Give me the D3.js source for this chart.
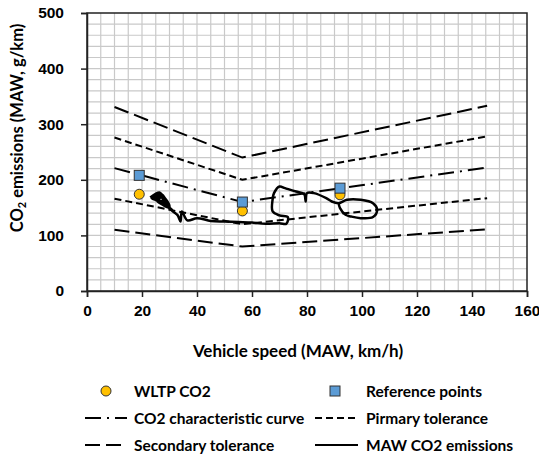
<meta charset="utf-8">
<script src="https://d3js.org/d3.v7.min.js"></script>
<style>
body { margin: 0; background: #fff; }
svg { font-family: Lato, "Open Sans", sans-serif; font-weight: bold; }
.tick text { font-size: 15.5px; fill: #000; }
.legend text { font-size: 15.5px; }
</style>
<body>
<div id="chart"></div>
<script>
// tick labels
var speedTicks = [0, 20, 40, 60, 80, 100, 120, 140, 160];
var co2Ticks = [0, 100, 200, 300, 400, 500];

// points
var wltpSpeed = [19, 56.5, 92];
var wltpCO2 = [174, 144, 173];
var refSpeed = [19, 56.5, 92];
var refCO2 = [208, 160, 185];

// characteristic curve + tolerances (same speed breakpoints)
var lineSpeed = [10, 56.5, 145.5];
var curveCO2 = [221, 160, 222];
var primaryUpper = [276, 200, 278];
var primaryLower = [166, 120, 167];
var secondaryUpper = [331, 240, 333];
var secondaryLower = [110, 80, 111];

// MAW CO2 emissions trace
var mawSpeed = [23, 26.5, 28, 23.5, 27, 29, 24, 26, 28.5, 24.5, 27.5, 30, 25.5, 27, 29.5, 26, 31, 28.5, 31.5, 33, 34, 34.5, 36.5, 40, 45, 50, 55, 60, 65, 70, 72.5, 73, 70, 67.5, 67.5, 68, 70, 72, 76, 79, 79.5, 80, 82.5, 87, 89, 91.5, 94.5, 99.5, 104, 105.5, 104, 99.5, 96, 94, 92, 91.5];
var mawCO2 = [168, 177, 163, 167, 174, 158, 170, 175, 160, 165, 170, 152, 162, 168, 150, 160, 146, 155, 142, 136, 125, 143, 127, 131, 126, 125, 124, 123, 121, 122, 121, 133, 136, 143, 165, 176, 188, 185, 179, 174, 161, 176, 176, 167, 161, 158, 164, 164, 158, 146, 133, 131, 134, 137, 149, 158];

var width = 539, height = 458;
var plotLeft = 87, plotRight = 527, plotTop = 13, plotBottom = 291;

var svg = d3.select("#chart").append("svg")
  .attr("width", width)
  .attr("height", height);

var x = d3.scaleLinear().domain([0, 160]).range([plotLeft, plotRight]);
var y = d3.scaleLinear().domain([0, 500]).range([plotBottom, plotTop]);

// grid
var grid = svg.append("g").attr("stroke", "#c9c9c9").attr("stroke-width", 1.2);
grid.selectAll("line.v")
  .data(d3.range(5, 160, 5))
  .enter().append("line")
  .attr("x1", d => x(d)).attr("x2", d => x(d))
  .attr("y1", plotTop).attr("y2", plotBottom);
grid.selectAll("line.h")
  .data(d3.range(20, 500, 20))
  .enter().append("line")
  .attr("x1", plotLeft).attr("x2", plotRight)
  .attr("y1", d => y(d)).attr("y2", d => y(d));

// frame
svg.append("rect")
  .attr("x", plotLeft).attr("y", plotTop)
  .attr("width", plotRight - plotLeft).attr("height", plotBottom - plotTop)
  .attr("fill", "none").attr("stroke", "#222").attr("stroke-width", 1.5);

// axes
var xAxis = svg.append("g")
  .attr("transform", "translate(0," + plotBottom + ")")
  .call(d3.axisBottom(x).tickValues(speedTicks).tickSize(6).tickPadding(8));
xAxis.select(".domain").attr("stroke", "#222").attr("stroke-width", 1.5);
xAxis.selectAll(".tick line").attr("stroke", "#222").attr("stroke-width", 1.5);

var yAxis = svg.append("g")
  .attr("transform", "translate(" + plotLeft + ",0)")
  .call(d3.axisLeft(y).tickValues(co2Ticks).tickSize(6).tickPadding(17));
yAxis.select(".domain").attr("stroke", "#222").attr("stroke-width", 1.5);
yAxis.selectAll(".tick line").attr("stroke", "#222").attr("stroke-width", 1.5);

// axis titles
svg.append("text")
  .attr("x", 298).attr("y", 357)
  .attr("text-anchor", "middle")
  .style("font-size", "17px")
  .text("Vehicle speed (MAW, km/h)");

var yt = svg.append("text")
  .attr("transform", "translate(23,128) rotate(-90)")
  .attr("text-anchor", "middle")
  .style("font-size", "16.5px");
yt.append("tspan").text("CO");
yt.append("tspan").attr("baseline-shift", "-25%").style("font-size", "11px").text("2");
yt.append("tspan").text(" emissions (MAW, g/km)");

// lines
var line = d3.line().x(d => x(d[0])).y(d => y(d[1]));
function pairs(xs, ys) { return xs.map((v, i) => [v, ys[i]]); }

var series = [
  { v: secondaryUpper, dash: "15,6" },
  { v: secondaryLower, dash: "15,6" },
  { v: primaryUpper, dash: "7,4" },
  { v: primaryLower, dash: "7,4" },
  { v: curveCO2, dash: "16,6,2,6" }
];
svg.selectAll("path.tol")
  .data(series)
  .enter().append("path")
  .attr("d", d => line(pairs(lineSpeed, d.v)))
  .attr("fill", "none")
  .attr("stroke", "#000")
  .attr("stroke-width", 2)
  .attr("stroke-dasharray", d => d.dash);

svg.append("path")
  .attr("d", line.curve(d3.curveCatmullRom)(pairs(mawSpeed, mawCO2)))
  .attr("fill", "none")
  .attr("stroke", "#000")
  .attr("stroke-width", 2.5)
  .attr("stroke-linejoin", "round");

// points
svg.selectAll("circle.wltp")
  .data(pairs(wltpSpeed, wltpCO2))
  .enter().append("circle")
  .attr("cx", d => x(d[0])).attr("cy", d => y(d[1]))
  .attr("r", 5)
  .attr("fill", "#ffc000").attr("stroke", "#333").attr("stroke-width", 1);

svg.selectAll("rect.ref")
  .data(pairs(refSpeed, refCO2))
  .enter().append("rect")
  .attr("x", d => x(d[0]) - 5).attr("y", d => y(d[1]) - 5)
  .attr("width", 10).attr("height", 10)
  .attr("fill", "#5b9bd5").attr("stroke", "#333").attr("stroke-width", 1);

// legend
var lg = svg.append("g").attr("class", "legend");
var rows = [391, 418, 445];
lg.append("circle").attr("cx", 106).attr("cy", rows[0]).attr("r", 5)
  .attr("fill", "#ffc000").attr("stroke", "#333");
lg.append("rect").attr("x", 330).attr("y", rows[0] - 5).attr("width", 10).attr("height", 10)
  .attr("fill", "#5b9bd5").attr("stroke", "#333");
var lgLines = [
  { x1: 85, x2: 127, y: rows[1], dash: "16,6,2,6" },
  { x1: 315, x2: 358, y: rows[1], dash: "7,4" },
  { x1: 85, x2: 127, y: rows[2], dash: "15,6" },
  { x1: 315, x2: 358, y: rows[2], dash: null }
];
lg.selectAll("line")
  .data(lgLines)
  .enter().append("line")
  .attr("x1", d => d.x1).attr("x2", d => d.x2)
  .attr("y1", d => d.y).attr("y2", d => d.y)
  .attr("stroke", "#000").attr("stroke-width", 2)
  .attr("stroke-dasharray", d => d.dash);
var lgText = [
  { x: 134, y: rows[0], t: "WLTP CO2" },
  { x: 366, y: rows[0], t: "Reference points" },
  { x: 134, y: rows[1], t: "CO2 characteristic curve" },
  { x: 366, y: rows[1], t: "Pirmary tolerance" },
  { x: 134, y: rows[2], t: "Secondary tolerance" },
  { x: 366, y: rows[2], t: "MAW CO2 emissions" }
];
lg.selectAll("text")
  .data(lgText)
  .enter().append("text")
  .attr("x", d => d.x).attr("y", d => d.y)
  .attr("dy", "0.36em")
  .text(d => d.t);
</script>
</body>
